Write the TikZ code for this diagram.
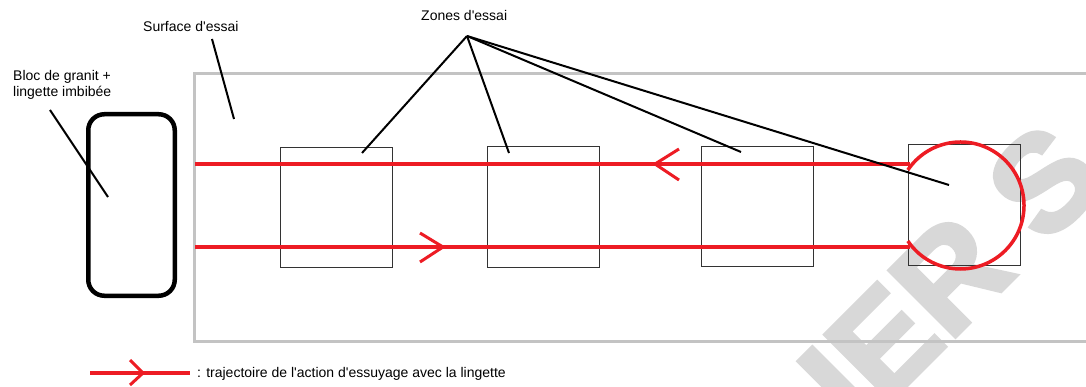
\documentclass[tikz,border=0pt]{standalone}
\usepackage{fontspec}
\setmainfont{Liberation Sans}[Ligatures=TeXOff]
\newfontfamily\wmfont{Liberation Sans Bold}[FakeBold=3]
\definecolor{pred}{HTML}{ED1C24}
\definecolor{sgray}{HTML}{C3C3C3}
\definecolor{wmgray}{HTML}{D8D8D8}
\begin{document}
\begin{tikzpicture}[x=1pt,y=-1pt,
  lbl/.style={font=\fontsize{14}{16}\selectfont, inner sep=0pt, anchor=base west},
  ptr/.style={line width=2pt, black},
  traj/.style={line width=4pt, pred},
  wing/.style={line width=3pt, pred},
  zone/.style={draw=black!80, line width=1pt, minimum width=112pt, minimum height=120pt, inner sep=0pt},
  blocstyle/.style={draw=black, line width=4.5pt, rounded corners=16pt, minimum width=86.5pt, minimum height=181.5pt, inner sep=0pt}
]
\useasboundingbox (0,0) rectangle (1086,387);
\begin{scope}
\clip (0,0) rectangle (1086,387);
% watermark (behind)
\node[font=\wmfont\fontsize{136}{136}\selectfont, text=wmgray, inner sep=0pt, anchor=base west, rotate=45] (wm) at (858,434) {IER S};
% test surface
\draw[sgray, line width=3pt] (1095,74) -- (194,74) -- (194,341) -- (1095,341);
% zones
\node[zone] (z1) at (336,207.5) {};
\node[zone] (z2) at (543,207) {};
\node[zone] (z3) at (757,206.5) {};
\node[zone] (z4) at (964,205) {};
% bloc
\node[blocstyle] (bloc) at (131.5,205) {};
% trajectory
\coordinate (uL) at (195,164);
\coordinate (uR) at (910,164);
\coordinate (lL) at (195,247);
\coordinate (lR) at (910,247);
\draw[traj] (uL) -- (uR);
\draw[traj] (lL) -- (lR);
\coordinate (cc) at (960.5,205.5);
\draw[traj, line width=3.5pt] (cc) ++(146:63.5pt) arc[start angle=146, end angle=-146, radius=63.5pt];
% arrowheads
\coordinate (a1) at (443,247);
\draw[wing] (420,233) -- (a1) -- (420,262);
\coordinate (a2) at (655,164);
\draw[wing] (679,149) -- (a2) -- (679,180);
% labels
\node[lbl] (tsurf) at (143,32) {Surface d'essai};
\node[lbl] (tbloc1) at (13,81) {Bloc de granit +};
\node[lbl] (tbloc2) at (13,97) {lingette imbib\'ee};
\node[lbl] (tzone) at (421,21) {Zones d'essai};
% pointers
\coordinate (ps1) at (212,39);
\coordinate (ps2) at (234,119);
\draw[ptr] (ps1) -- (ps2);
\coordinate (pb1) at (50,110);
\coordinate (pb2) at (108,197);
\draw[ptr] (pb1) -- (pb2);
\coordinate (apex) at (467,36);
\coordinate (e1) at (362,153);
\coordinate (e2) at (509,153);
\coordinate (e3) at (741,152);
\coordinate (e4) at (949,185);
\foreach \e in {e1,e2,e3,e4} \draw[ptr] (apex) -- (\e);
% legend
\coordinate (lg1) at (90,373);
\coordinate (lg2) at (190,373);
\draw[traj, line width=3.5pt] (lg1) -- (lg2);
\coordinate (lga) at (143,373);
\draw[wing] (130,360) -- (lga) -- (130,385);
\node[lbl] (tleg) at (197,377) {: trajectoire de l'action d'essuyage avec la lingette};
\end{scope}
\end{tikzpicture}
\end{document}
